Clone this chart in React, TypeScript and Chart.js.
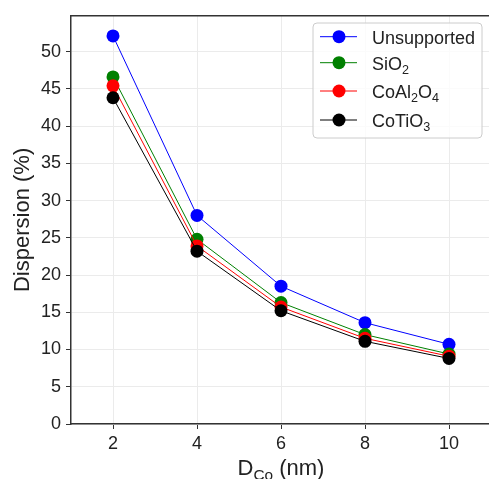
import React, { useEffect, useRef } from 'react';
import { Chart, registerables } from 'chart.js';

Chart.register(...registerables);

const sizes = [2, 4, 6, 8, 10];
const seriesLabels = ['Unsupported', 'SiO_2', 'CoAl_2O_4', 'CoTiO_3'];
const unsupported = [52.1, 28.0, 18.5, 13.6, 10.7];
const sio2 = [46.6, 24.8, 16.3, 12.0, 9.4];
const coal2o4 = [45.4, 23.9, 15.7, 11.5, 9.1];
const cotio3 = [43.8, 23.2, 15.2, 11.1, 8.8];
const seriesColors = ['#0000ff', '#008000', '#ff0000', '#000000'];
const xTickValues = [2, 4, 6, 8, 10];
const yTickValues = [0, 5, 10, 15, 20, 25, 30, 35, 40, 45, 50];
const xTitle = 'D_{Co} (nm)';
const yTitle = 'Dispersion (%)';

const FONT = "'Liberation Sans', Arial, sans-serif";

type Part = { text: string; sub: boolean };

function parseRich(s: string): Part[] {
  const parts: Part[] = [];
  const re = /_\{([^}]*)\}|_(.)/g;
  let last = 0;
  let m: RegExpExecArray | null;
  while ((m = re.exec(s))) {
    if (m.index > last) parts.push({ text: s.slice(last, m.index), sub: false });
    parts.push({ text: m[1] !== undefined ? m[1] : m[2], sub: true });
    last = re.lastIndex;
  }
  if (last < s.length) parts.push({ text: s.slice(last), sub: false });
  return parts;
}

function drawRich(ctx: CanvasRenderingContext2D, s: string, x: number, y: number, size: number, color: string, align: 'left' | 'center') {
  const parts = parseRich(s);
  const subSize = size * 0.7;
  ctx.save();
  ctx.fillStyle = color;
  ctx.textAlign = 'left';
  ctx.textBaseline = 'alphabetic';
  let total = 0;
  for (const p of parts) {
    ctx.font = `${p.sub ? subSize : size}px ${FONT}`;
    total += ctx.measureText(p.text).width;
  }
  let cx = align === 'center' ? x - total / 2 : x;
  for (const p of parts) {
    ctx.font = `${p.sub ? subSize : size}px ${FONT}`;
    ctx.fillText(p.text, cx, p.sub ? y + size * 0.23 : y);
    cx += ctx.measureText(p.text).width;
  }
  ctx.restore();
}

const decorPlugin = {
  id: 'decor',
  afterDraw(chart: any) {
    const ctx: CanvasRenderingContext2D = chart.ctx;
    const ca = chart.chartArea;
    // top spine
    ctx.save();
    ctx.strokeStyle = '#333333';
    ctx.lineWidth = 1.5;
    ctx.beginPath();
    ctx.moveTo(ca.left - 0.75, ca.top);
    ctx.lineTo(ca.right, ca.top);
    ctx.stroke();
    ctx.restore();

    // x title with subscript
    drawRich(ctx, xTitle, (ca.left + ca.right) / 2, ca.bottom + 51, 22, '#222222', 'center');

    // legend
    const bx = 313, by = 23, bw = 169, bh = 115, r = 4;
    ctx.save();
    ctx.beginPath();
    ctx.moveTo(bx + r, by);
    ctx.lineTo(bx + bw - r, by);
    ctx.quadraticCurveTo(bx + bw, by, bx + bw, by + r);
    ctx.lineTo(bx + bw, by + bh - r);
    ctx.quadraticCurveTo(bx + bw, by + bh, bx + bw - r, by + bh);
    ctx.lineTo(bx + r, by + bh);
    ctx.quadraticCurveTo(bx, by + bh, bx, by + bh - r);
    ctx.lineTo(bx, by + r);
    ctx.quadraticCurveTo(bx, by, bx + r, by);
    ctx.closePath();
    ctx.fillStyle = 'rgba(255,255,255,0.8)';
    ctx.fill();
    ctx.strokeStyle = '#cccccc';
    ctx.lineWidth = 1;
    ctx.stroke();
    ctx.restore();

    const rowY = [36.7, 62.7, 91, 120];
    chart.data.datasets.forEach((ds: any, i: number) => {
      const y = rowY[i];
      ctx.save();
      ctx.strokeStyle = ds.borderColor;
      ctx.lineWidth = 1;
      ctx.beginPath();
      ctx.moveTo(320, y);
      ctx.lineTo(357, y);
      ctx.stroke();
      ctx.fillStyle = ds.pointBackgroundColor;
      ctx.beginPath();
      ctx.arc(339, y, 6.5, 0, Math.PI * 2);
      ctx.fill();
      ctx.restore();
      drawRich(ctx, ds.label, 372, y + 7, 18, '#222222', 'left');
    });
  },
};

export default function App() {
  const ref = useRef<HTMLCanvasElement | null>(null);

  useEffect(() => {
    if (!ref.current) return;
    const series = [unsupported, sio2, coal2o4, cotio3];
    const chart = new Chart(ref.current, {
      type: 'line',
      data: {
        datasets: series.map((vals, i) => ({
          label: seriesLabels[i],
          data: sizes.map((x, j) => ({ x, y: vals[j] })),
          borderColor: seriesColors[i],
          backgroundColor: seriesColors[i],
          pointBackgroundColor: seriesColors[i],
          pointBorderColor: seriesColors[i],
          pointBorderWidth: 0,
          pointRadius: 6.5,
          pointHoverRadius: 6.5,
          borderWidth: 1,
          tension: 0,
          fill: false,
          order: series.length - 1 - i,
        })),
      },
      options: {
        animation: false,
        responsive: false,
        devicePixelRatio: 1,
        events: [],
        layout: { padding: { top: 15, left: 0, right: 9, bottom: 0 } },
        plugins: {
          legend: { display: false },
          tooltip: { enabled: false },
        },
        scales: {
          x: {
            type: 'linear',
            min: 1,
            max: 11,
            afterBuildTicks: (scale: any) => {
              scale.ticks = xTickValues.map((v) => ({ value: v }));
            },
            afterFit: (scale: any) => {
              scale.height = 66;
            },
            grid: {
              color: '#ebebeb',
              lineWidth: 1,
              drawTicks: true,
              tickLength: 5,
              tickColor: '#333333',
              tickWidth: 1,
            },
            border: { color: '#333333', width: 1.5 },
            ticks: {
              color: '#222222',
              font: { family: FONT, size: 18 },
              padding: 4,
              maxRotation: 0,
            },
          },
          y: {
            type: 'linear',
            min: 0,
            max: 54.8,
            afterBuildTicks: (scale: any) => {
              scale.ticks = yTickValues.map((v) => ({ value: v }));
            },
            afterFit: (scale: any) => {
              scale.width = 71;
            },
            grid: {
              color: '#ebebeb',
              lineWidth: 1,
              drawTicks: true,
              tickLength: 5,
              tickColor: '#333333',
              tickWidth: 1,
            },
            border: { color: '#333333', width: 1.5 },
            ticks: {
              color: '#222222',
              font: { family: FONT, size: 18 },
              padding: 5,
            },
            title: {
              display: true,
              text: yTitle,
              color: '#222222',
              font: { family: FONT, size: 22, weight: 'normal' },
              padding: { top: 10, bottom: 0 },
            },
          },
        },
      },
      plugins: [decorPlugin],
    });
    return () => chart.destroy();
  }, []);

  return (
    <div style={{ position: 'fixed', left: 0, top: 0, width: 489, height: 479, overflow: 'hidden', background: '#fff' }}>
      <canvas ref={ref} width={500} height={490} style={{ display: 'block' }} />
    </div>
  );
}
